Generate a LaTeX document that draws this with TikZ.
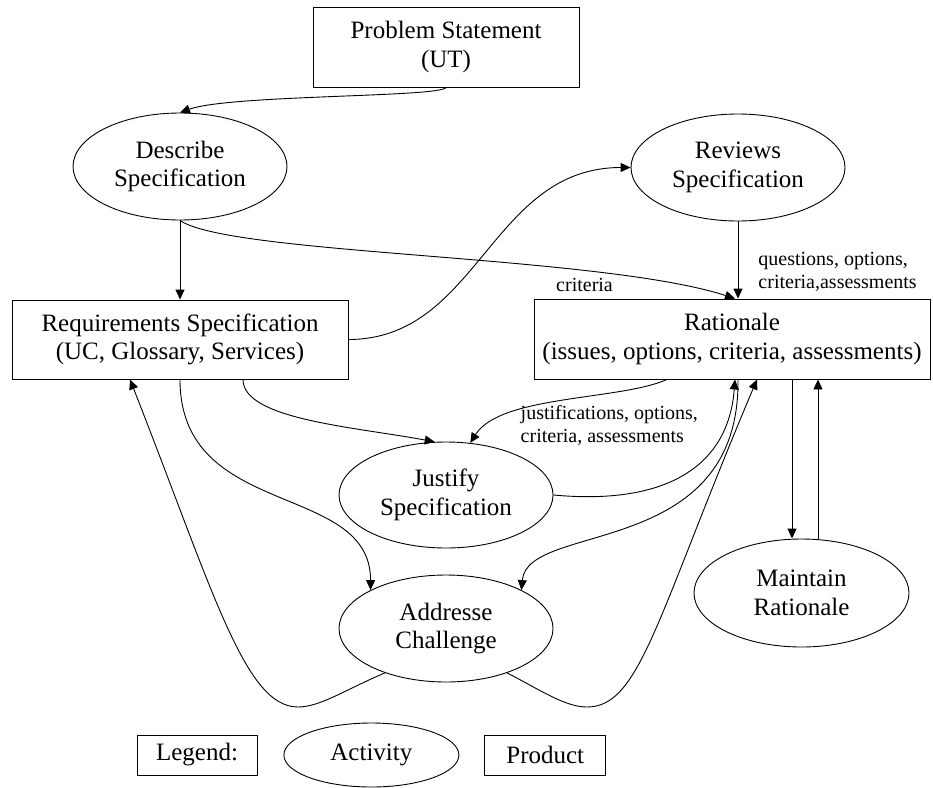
\documentclass[tikz,border=0pt]{standalone}
\usepackage{fontspec}
\setmainfont{Liberation Serif}
\usetikzlibrary{
  positioning,
  shapes.geometric,
  arrows.meta
}

\begin{document}
\begin{tikzpicture}[x=1pt, y=-1pt, line width=0.9pt,
  every node/.style={font=\fontsize{25}{28.5}\selectfont}, align=center,
  product/.style={draw, rectangle, inner sep=0pt},
  activity/.style={draw, ellipse, inner sep=0pt, minimum width=214pt, minimum height=107pt},
  annot/.style={font=\fontsize{20}{23}\selectfont, align=left, inner sep=0pt},
  arrow/.style={-{Triangle[length=10pt, width=9pt]}}
]
\useasboundingbox (0,0) rectangle (933,787);

% Nodes
\node[product, minimum width=266pt, minimum height=80pt] (problem) at (446,47) {Problem Statement\\ (UT)};
\node[activity] (describe) at (180,166.5) {Describe\\ Specification};
\node[activity] (reviews) at (738,167.5) {Reviews\\ Specification};
\node[product, minimum width=336pt, minimum height=79pt] (reqspec) at (180,339.5) {Requirements Specification\\ (UC, Glossary, Services)};
\node[product, minimum width=396pt, minimum height=80pt] (rationale) at (732,339) {Rationale\\ (issues, options, criteria, assessments)};
\node[activity, minimum height=106pt] (justify) at (446,495) {Justify\\ Specification};
\node[activity] (addresse) at (446,628.5) {Addresse\\ Challenge};
\node[activity, minimum width=215pt, minimum height=108pt] (maintain) at (801.5,593) {Maintain\\ Rationale};

% Legend
\node[product, minimum width=120pt, minimum height=40pt] (legend) at (197,755) {Legend:};
\node[activity, minimum width=175pt, minimum height=64pt, right=26pt of legend] (activity) {Activity};
\node[product, minimum width=121pt, minimum height=40pt, right=25pt of activity] (product) {Product};

% Arrows
\draw[arrow] (problem.south) .. controls +(-5,10) and +(50,-18) .. (describe.north);
\draw[arrow] (describe) -- (reqspec);
\draw[arrow] (describe.south) .. controls (230,255) and (600,255) .. ([xshift=3pt]rationale.north)
  node[annot, pos=.72, anchor=north, xshift=6pt, yshift=-7pt] (lcrit) {criteria};
\draw[arrow] (reqspec.east) .. controls +(130,0) and +(-140,0) .. (reviews.west);
\draw[arrow] (reviews) -- (reviews |- rationale.north)
  node[annot, pos=.65, anchor=west, xshift=20pt] (lques) {questions, options,\\ criteria,assessments};
\draw[arrow] ([xshift=-65pt]rationale.south) .. controls +(-47,21) and +(30,-48) .. (justify.65)
  node[annot, pos=.5, anchor=north west, xshift=-42pt, yshift=-4pt] (ljust) {justifications, options,\\ criteria, assessments};
\draw[arrow] ([xshift=63pt]reqspec.south) .. controls +(0,40) and +(-80,-15) .. (justify.102);
\draw[arrow] (justify.east) .. controls +(107,10) and +(-7,91) .. ([xshift=3pt]rationale.south);
\draw[arrow] ([xshift=6pt]rationale.south) .. controls +(2,181) and +(6,-69) .. (addresse.27);
\draw[arrow] (reqspec.south) .. controls +(0,141) and +(0,-109) .. (addresse.153);

\coordinate (ldip) at (298,707);
\coordinate (rdip) at (587,707);
\draw[arrow] (addresse.216) .. controls +(-40,17) and +(22,0) .. (ldip)
  .. controls +(-53,0) and +(84,214) .. ([xshift=-50pt]reqspec.south);
\draw[arrow] (addresse.324) .. controls +(33,17) and +(-22,0) .. (rdip)
  .. controls +(53,0) and +(-101,239) .. ([xshift=25pt]rationale.south);

\draw[arrow] ([xshift=60pt]rationale.south) -- ([xshift=-9.5pt]maintain.north);
\draw[arrow] ([xshift=16.5pt]maintain.north) -- ([xshift=86pt]rationale.south);

\end{tikzpicture}
\end{document}
